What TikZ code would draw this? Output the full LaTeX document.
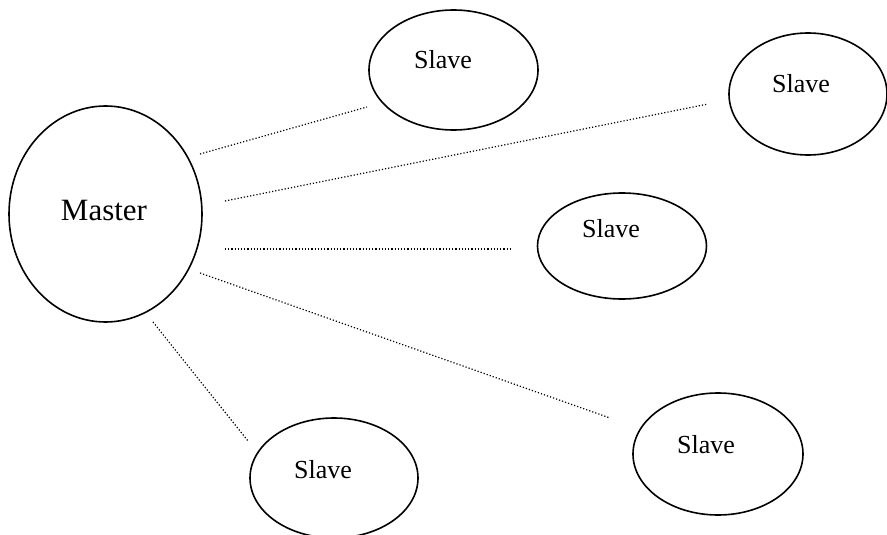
\documentclass[tikz,border=0pt]{standalone}
\usepackage{fontspec}
\setmainfont{Liberation Serif}
\usetikzlibrary{shapes.geometric}

\begin{document}
\begin{tikzpicture}[x=1pt, y=-1pt,
  blob/.style={draw, ellipse, line width=1.6pt, inner sep=0pt},
  slaveblob/.style={blob, minimum width=169pt, minimum height=120pt},
  link/.style={dotted, line width=1.2pt},
  slavetext/.style={inner sep=0pt, font=\fontsize{26}{31}\selectfont}];

\useasboundingbox (0,0) rectangle (887,535);

% master and slaves

\node[blob, minimum width=193pt, minimum height=216pt] (master) at (105.5,214) {};
\node[inner sep=0pt, font=\fontsize{31}{37}\selectfont] (mastertext) at (104,211) {Master};

\node[slaveblob] (slaveone) at (453.5,70) {};
\node[slavetext] (slaveonetext) at (443,60) {Slave};
\node[slaveblob, minimum width=158pt, minimum height=122pt] (slavetwo) at (808,94) {};
\node[slavetext] (slavetwotext) at (801,84) {Slave};
\node[slaveblob, minimum height=106pt] (slavethree) at (622,246) {};
\node[slavetext] (slavethreetext) at (611,229) {Slave};
\node[slaveblob, minimum width=170pt, minimum height=122pt] (slavefour) at (718,454) {};
\node[slavetext] (slavefourtext) at (706,445) {Slave};
\node[slaveblob, minimum width=168pt] (slavefive) at (334,478) {};
\node[slavetext] (slavefivetext) at (323,470) {Slave};

% dotted links (they stop short of the ellipses)

\coordinate (mone) at (200,154);
\coordinate (sone) at (367,107);
\coordinate (mtwo) at (225,201);
\coordinate (stwo) at (708,104);
\coordinate (mthree) at (225,249);
\coordinate (sthree) at (512,249);
\coordinate (mfour) at (200,273);
\coordinate (sfour) at (610,418);
\coordinate (mfive) at (153,322);
\coordinate (sfive) at (248,441);

\draw[link] (mone) -- (sone);
\draw[link] (mtwo) -- (stwo);
\draw[link] (mthree) -- (sthree);
\draw[link] (mfour) -- (sfour);
\draw[link] (mfive) -- (sfive);

\end{tikzpicture}
\end{document}
